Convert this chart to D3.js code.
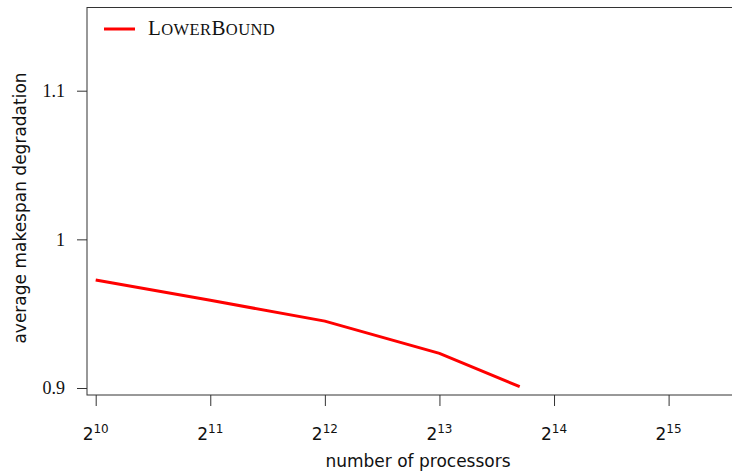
<!DOCTYPE html>
<meta charset="utf-8">
<script src="https://d3js.org/d3.v7.min.js"></script>
<style>
  body { margin: 0; background: #fff; }
</style>
<div id="my_dataviz"></div>
<script>

// data
var processors = [1024, 2048, 4096, 8192, 13312];
var lowerBound = [0.9726, 0.959, 0.945, 0.9233, 0.9009];
var xTicks = [10, 11, 12, 13, 14, 15];
var yTicks = [0.9, 1, 1.1];
var seriesName = "LowerBound";

var W = 732, H = 475;
var box = {left: 87, top: 7.5, right: 733, bottom: 395};

var svg = d3.select("#my_dataviz")
  .append("svg")
    .attr("width", W)
    .attr("height", H);

var x = d3.scaleLog().base(2)
  .domain([Math.pow(2, 10), Math.pow(2, 15)])
  .range([95.7, 668.6]);

var y = d3.scaleLinear()
  .domain([0.9, 1.1])
  .range([388, 90.7]);

// plot frame
svg.append("rect")
  .attr("x", box.left)
  .attr("y", box.top)
  .attr("width", box.right - box.left)
  .attr("height", box.bottom - box.top)
  .attr("fill", "none")
  .attr("stroke", "#333")
  .attr("stroke-width", 1);

// x axis (ticks only, labels drawn as 2^k)
var xAxis = svg.append("g")
  .attr("transform", "translate(0," + box.bottom + ")")
  .call(d3.axisBottom(x)
    .tickValues(xTicks.map(function(k) { return Math.pow(2, k); }))
    .tickSize(11)
    .tickFormat(""));
xAxis.select(".domain").remove();
xAxis.selectAll("line").attr("stroke", "#333");

var xl = svg.append("g").selectAll("text")
  .data(xTicks)
  .enter().append("text")
    .attr("x", function(k) { return x(Math.pow(2, k)); })
    .attr("y", 440)
    .attr("text-anchor", "middle")
    .style("font-family", "'DejaVu Sans'")
    .style("font-size", "17px")
    .attr("fill", "#111");
xl.append("tspan").text("2");
xl.append("tspan")
  .attr("dy", -7)
  .style("font-size", "12px")
  .text(function(k) { return k; });

// y axis
var yAxis = svg.append("g")
  .attr("transform", "translate(" + box.left + ",0)")
  .call(d3.axisLeft(y)
    .tickValues(yTicks)
    .tickSize(10)
    .tickPadding(12)
    .tickFormat(function(d) { return d3.format("")(d); }));
yAxis.select(".domain").remove();
yAxis.selectAll("line").attr("stroke", "#333");
yAxis.selectAll("text")
  .style("font-family", "'Liberation Serif'")
  .style("font-size", "18px")
  .attr("fill", "#111");

// axis titles
svg.append("text")
  .attr("x", 418)
  .attr("y", 467)
  .attr("text-anchor", "middle")
  .style("font-family", "'DejaVu Sans'")
  .style("font-size", "17px")
  .attr("fill", "#111")
  .text("number of processors");

svg.append("text")
  .attr("transform", "translate(26,208) rotate(-90)")
  .attr("text-anchor", "middle")
  .style("font-family", "'DejaVu Sans'")
  .style("font-size", "17px")
  .attr("fill", "#111")
  .text("average makespan degradation");

// series
var pts = processors.map(function(p, i) { return [p, lowerBound[i]]; });
svg.append("path")
  .datum(pts)
  .attr("fill", "none")
  .attr("stroke", "#ff0000")
  .attr("stroke-width", 3)
  .attr("d", d3.line()
    .x(function(d) { return x(d[0]); })
    .y(function(d) { return y(d[1]); }));

// legend
svg.append("line")
  .attr("x1", 104).attr("x2", 135)
  .attr("y1", 29).attr("y2", 29)
  .attr("stroke", "#ff0000")
  .attr("stroke-width", 3);

// small caps by hand: capitals large, lower case as smaller capitals
var runs = seriesName.match(/[A-Z]+|[a-z]+/g);
svg.append("text")
  .attr("x", 148)
  .attr("y", 35)
  .style("font-family", "'Liberation Serif'")
  .style("letter-spacing", "0.4px")
  .attr("fill", "#111")
  .selectAll("tspan")
  .data(runs)
  .enter().append("tspan")
    .style("font-size", function(s) { return s === s.toUpperCase() ? "21px" : "16.5px"; })
    .text(function(s) { return s.toUpperCase(); });

</script>
